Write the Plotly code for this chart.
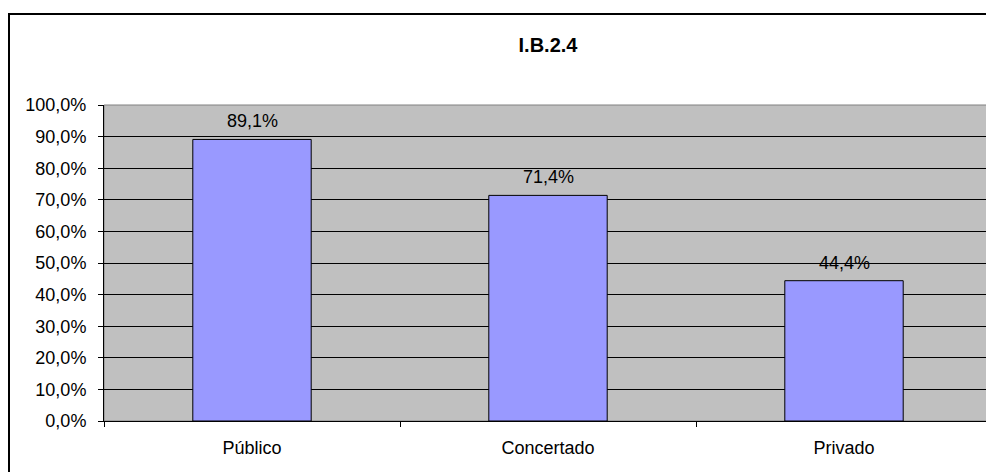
import plotly.graph_objects as go

categories = ["Público", "Concertado", "Privado"]
values = [89.1, 71.4, 44.4]
chart_title = "I.B.2.4"

# the page body adds an 8px margin, so the figure is 8px smaller each way
W, H = 986, 464
ML, MR, MT, MB = 96, 2, 97, 51
pw = W - ML - MR
ph = H - MT - MB
FONT = "Liberation Sans, Arial"

fig = go.Figure()
fig.add_trace(go.Bar(
    x=categories,
    y=values,
    width=0.4,
    marker=dict(color="#9999FF", line=dict(color="black", width=1)),
))

for cat, val in zip(categories, values):
    fig.add_annotation(x=cat, y=val, text=f"{val:.1f}%".replace(".", ","),
                       showarrow=False, yanchor="bottom", yshift=6,
                       font=dict(family=FONT, size=18, color="black"))

# outer chart frame (runs off the right/bottom like the source image)
fig.add_shape(type="rect", xref="paper", yref="paper",
              x0=(1 - ML) / pw, x1=(W + 10 - ML) / pw,
              y0=-(MB + 10) / ph, y1=1 + (MT - 6) / ph,
              line=dict(color="black", width=2), layer="below")
# plot area border
fig.add_shape(type="rect", xref="paper", yref="paper",
              x0=0, x1=1, y0=0, y1=1,
              line=dict(color="#808080", width=1), layer="below")

fig.update_layout(
    width=W, height=H,
    margin=dict(l=ML, r=MR, t=MT, b=MB),
    paper_bgcolor="white",
    plot_bgcolor="#C0C0C0",
    separators=",.",
    showlegend=False,
    font=dict(family=FONT, size=18, color="black"),
    title=dict(text="<b>" + chart_title + "</b>", x=0.5, xref="paper",
               y=1 - 37 / H, yanchor="middle",
               font=dict(size=20, color="black")),
)
fig.update_xaxes(
    type="category", range=[-0.5, 2.5],
    tickson="boundaries", ticks="outside", ticklen=5, tickcolor="black",
    showgrid=False, showline=True, linecolor="black", linewidth=1,
    ticklabelstandoff=10,
)
fig.update_yaxes(
    range=[0, 100], dtick=10, tickformat=".1f", ticksuffix="%",
    ticks="outside", ticklen=5, tickcolor="black",
    showgrid=True, gridcolor="black", gridwidth=1,
    showline=True, linecolor="black", linewidth=1,
    zeroline=False, ticklabelstandoff=8,
)

fig.write_html("out.html")
